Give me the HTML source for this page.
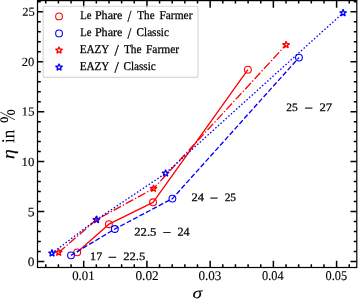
<!DOCTYPE html><html><head><meta charset="utf-8"><style>html,body{margin:0;padding:0;background:#fff;overflow:hidden;}svg{display:block;will-change:transform;}text{font-family:"Liberation Serif",serif;stroke:#000;stroke-width:0.25px;}</style></head><body>
<svg width="358" height="299" viewBox="0 0 358 299">
<rect x="0" y="0" width="358" height="299" fill="#fff"/>
<path d="M45.77,267.5v-3.3M45.77,0.6v3.0M58.41,267.5v-3.3M58.41,0.6v3.0M71.06,267.5v-3.3M71.06,0.6v3.0M83.70,267.5v-6.8M83.70,0.6v7.1M96.34,267.5v-3.3M96.34,0.6v3.0M108.99,267.5v-3.3M108.99,0.6v3.0M121.63,267.5v-3.3M121.63,0.6v3.0M134.28,267.5v-3.3M134.28,0.6v3.0M146.93,267.5v-6.8M146.93,0.6v7.1M159.57,267.5v-3.3M159.57,0.6v3.0M172.22,267.5v-3.3M172.22,0.6v3.0M184.86,267.5v-3.3M184.86,0.6v3.0M197.50,267.5v-3.3M197.50,0.6v3.0M210.15,267.5v-6.8M210.15,0.6v7.1M222.79,267.5v-3.3M222.79,0.6v3.0M235.44,267.5v-3.3M235.44,0.6v3.0M248.09,267.5v-3.3M248.09,0.6v3.0M260.73,267.5v-3.3M260.73,0.6v3.0M273.38,267.5v-6.8M273.38,0.6v7.1M286.02,267.5v-3.3M286.02,0.6v3.0M298.67,267.5v-3.3M298.67,0.6v3.0M311.31,267.5v-3.3M311.31,0.6v3.0M323.96,267.5v-3.3M323.96,0.6v3.0M336.60,267.5v-6.8M336.60,0.6v7.1M349.25,267.5v-3.3M349.25,0.6v3.0M37.5,261.50h6.8M356.8,261.50h-6.3M37.5,251.51h3.3M356.8,251.51h-3.0M37.5,241.52h3.3M356.8,241.52h-3.0M37.5,231.53h3.3M356.8,231.53h-3.0M37.5,221.54h3.3M356.8,221.54h-3.0M37.5,211.55h6.8M356.8,211.55h-6.3M37.5,201.56h3.3M356.8,201.56h-3.0M37.5,191.57h3.3M356.8,191.57h-3.0M37.5,181.58h3.3M356.8,181.58h-3.0M37.5,171.59h3.3M356.8,171.59h-3.0M37.5,161.60h6.8M356.8,161.60h-6.3M37.5,151.61h3.3M356.8,151.61h-3.0M37.5,141.62h3.3M356.8,141.62h-3.0M37.5,131.63h3.3M356.8,131.63h-3.0M37.5,121.64h3.3M356.8,121.64h-3.0M37.5,111.65h6.8M356.8,111.65h-6.3M37.5,101.66h3.3M356.8,101.66h-3.0M37.5,91.67h3.3M356.8,91.67h-3.0M37.5,81.68h3.3M356.8,81.68h-3.0M37.5,71.69h3.3M356.8,71.69h-3.0M37.5,61.70h6.8M356.8,61.70h-6.3M37.5,51.71h3.3M356.8,51.71h-3.0M37.5,41.72h3.3M356.8,41.72h-3.0M37.5,31.73h3.3M356.8,31.73h-3.0M37.5,21.74h3.3M356.8,21.74h-3.0M37.5,11.75h6.8M356.8,11.75h-6.3M37.5,1.76h3.3M356.8,1.76h-3.0" stroke="#000" stroke-width="1.5" fill="none"/>
<circle cx="77.20" cy="252.35" r="3.4" fill="none" stroke="#ff0000" stroke-width="1.1"/>
<circle cx="108.90" cy="224.20" r="3.4" fill="none" stroke="#ff0000" stroke-width="1.1"/>
<circle cx="153.05" cy="202.30" r="3.4" fill="none" stroke="#ff0000" stroke-width="1.1"/>
<circle cx="247.90" cy="69.65" r="3.4" fill="none" stroke="#ff0000" stroke-width="1.1"/>
<circle cx="71.00" cy="255.35" r="3.4" fill="none" stroke="#0000ff" stroke-width="1.1"/>
<circle cx="114.85" cy="229.00" r="3.4" fill="none" stroke="#0000ff" stroke-width="1.1"/>
<circle cx="172.40" cy="198.60" r="3.4" fill="none" stroke="#0000ff" stroke-width="1.1"/>
<circle cx="298.95" cy="57.60" r="3.4" fill="none" stroke="#0000ff" stroke-width="1.1"/>
<polygon points="58.70,248.70 59.53,251.26 62.22,251.26 60.04,252.84 60.87,255.39 58.70,253.81 56.53,255.39 57.36,252.84 55.18,251.26 57.87,251.26" fill="none" stroke="#ff0000" stroke-width="1.25" stroke-linejoin="bevel"/>
<polygon points="96.50,216.00 97.33,218.56 100.02,218.56 97.84,220.14 98.67,222.69 96.50,221.11 94.33,222.69 95.16,220.14 92.98,218.56 95.67,218.56" fill="none" stroke="#ff0000" stroke-width="1.25" stroke-linejoin="bevel"/>
<polygon points="153.50,184.90 154.33,187.46 157.02,187.46 154.84,189.04 155.67,191.59 153.50,190.01 151.33,191.59 152.16,189.04 149.98,187.46 152.67,187.46" fill="none" stroke="#ff0000" stroke-width="1.25" stroke-linejoin="bevel"/>
<polygon points="286.10,41.10 286.93,43.66 289.62,43.66 287.44,45.24 288.27,47.79 286.10,46.21 283.93,47.79 284.76,45.24 282.58,43.66 285.27,43.66" fill="none" stroke="#ff0000" stroke-width="1.25" stroke-linejoin="bevel"/>
<polygon points="52.00,249.50 52.83,252.06 55.52,252.06 53.34,253.64 54.17,256.19 52.00,254.61 49.83,256.19 50.66,253.64 48.48,252.06 51.17,252.06" fill="none" stroke="#0000ff" stroke-width="1.25" stroke-linejoin="bevel"/>
<polygon points="96.50,216.00 97.33,218.56 100.02,218.56 97.84,220.14 98.67,222.69 96.50,221.11 94.33,222.69 95.16,220.14 92.98,218.56 95.67,218.56" fill="none" stroke="#0000ff" stroke-width="1.25" stroke-linejoin="bevel"/>
<polygon points="165.60,169.60 166.43,172.16 169.12,172.16 166.94,173.74 167.77,176.29 165.60,174.71 163.43,176.29 164.26,173.74 162.08,172.16 164.77,172.16" fill="none" stroke="#0000ff" stroke-width="1.25" stroke-linejoin="bevel"/>
<polygon points="343.10,9.20 343.93,11.76 346.62,11.76 344.44,13.34 345.27,15.89 343.10,14.31 340.93,15.89 341.76,13.34 339.58,11.76 342.27,11.76" fill="none" stroke="#0000ff" stroke-width="1.25" stroke-linejoin="bevel"/>
<polyline points="77.20,252.35 108.90,224.20 153.05,202.30 247.90,69.65" fill="none" stroke="#ff0000" stroke-width="1.33" stroke-linejoin="round"/>
<polyline points="71.00,255.35 114.85,229.00 172.40,198.60 298.95,57.60" fill="none" stroke="#0000ff" stroke-width="1.33" stroke-dasharray="5.051,2.184" stroke-dashoffset="0.50" stroke-linejoin="round"/>
<polyline points="58.70,252.40 96.50,219.70 153.50,188.60 286.10,44.80" fill="none" stroke="#ff0000" stroke-width="1.33" stroke-dasharray="8.390,2.098,1.311,2.098" stroke-linejoin="round"/>
<polyline points="52.00,253.20 96.50,219.70 165.60,173.30 343.10,12.90" fill="none" stroke="#0000ff" stroke-width="1.33" stroke-dasharray="1.5,2.0" stroke-dashoffset="0.50" stroke-linejoin="round"/>
<rect x="37.5" y="0.6" width="319.3" height="266.9" fill="none" stroke="#000" stroke-width="1.2"/>
<rect x="43.2" y="6.3" width="154.8" height="71.1" rx="2" ry="2" fill="#fff" fill-opacity="0.8" stroke="#cccccc" stroke-opacity="0.8" stroke-width="1.1"/>
<circle cx="59.05" cy="16.40" r="3.4" fill="none" stroke="#ff0000" stroke-width="1.1"/>
<circle cx="59.05" cy="33.40" r="3.4" fill="none" stroke="#0000ff" stroke-width="1.1"/>
<polygon points="59.05,46.60 59.88,49.16 62.57,49.16 60.39,50.74 61.22,53.29 59.05,51.71 56.88,53.29 57.71,50.74 55.53,49.16 58.22,49.16" fill="none" stroke="#ff0000" stroke-width="1.25" stroke-linejoin="bevel"/>
<polygon points="59.05,63.60 59.88,66.16 62.57,66.16 60.39,67.74 61.22,70.29 59.05,68.71 56.88,70.29 57.71,67.74 55.53,66.16 58.22,66.16" fill="none" stroke="#0000ff" stroke-width="1.25" stroke-linejoin="bevel"/>
<text transform="translate(80.191,18.950) rotate(0.05) scale(0.8878,1)" font-size="12.000">Le</text>
<text transform="translate(94.877,18.950) rotate(0.05) scale(1.0101,1)" font-size="12.000">Phare</text>
<text transform="translate(127.514,21.494) rotate(0.05) scale(0.8657,1)" font-size="15.963">/</text>
<text transform="translate(137.308,18.950) rotate(0.05) scale(0.9306,1)" font-size="12.000">The</text>
<text transform="translate(159.402,18.950) rotate(0.05) scale(0.9556,1)" font-size="12.000">Farmer</text>
<text transform="translate(80.191,36.050) rotate(0.05) scale(0.8878,1)" font-size="12.000">Le</text>
<text transform="translate(94.877,36.050) rotate(0.05) scale(1.0101,1)" font-size="12.000">Phare</text>
<text transform="translate(127.614,38.392) rotate(0.05) scale(0.8840,1)" font-size="15.568">/</text>
<text transform="translate(136.577,36.050) rotate(0.05) scale(0.9330,1)" font-size="12.000">Classic</text>
<text transform="translate(79.695,52.950) rotate(0.05) scale(0.9296,1)" font-size="12.000">EAZY</text>
<text transform="translate(114.475,55.511) rotate(0.05) scale(0.9825,1)" font-size="15.780">/</text>
<text transform="translate(123.913,52.950) rotate(0.05) scale(0.9478,1)" font-size="12.000">The</text>
<text transform="translate(145.889,52.950) rotate(0.05) scale(0.9585,1)" font-size="12.000">Farmer</text>
<text transform="translate(79.695,69.950) rotate(0.05) scale(0.9296,1)" font-size="12.000">EAZY</text>
<text transform="translate(114.475,72.511) rotate(0.05) scale(0.9825,1)" font-size="15.780">/</text>
<text transform="translate(123.482,69.950) rotate(0.05) scale(0.9336,1)" font-size="12.000">Classic</text>
<text transform="translate(27.865,266.085) rotate(0.05) scale(1.0608,1)" font-size="12.678" style="stroke-width:0.12px">0</text>
<text transform="translate(27.692,216.215) rotate(0.05) scale(1.0517,1)" font-size="13.012" style="stroke-width:0.12px">5</text>
<text transform="translate(21.491,165.924) rotate(0.05) scale(1.0385,1)" font-size="12.407" style="stroke-width:0.12px">10</text>
<text transform="translate(21.377,115.540) rotate(0.05) scale(1.0693,1)" font-size="12.312" style="stroke-width:0.12px">15</text>
<text transform="translate(21.821,65.892) rotate(0.05) scale(1.0019,1)" font-size="12.545" style="stroke-width:0.12px">20</text>
<text transform="translate(22.136,15.636) rotate(0.05) scale(1.0353,1)" font-size="12.105" style="stroke-width:0.12px">25</text>
<text transform="translate(72.221,279.966) rotate(0.05) scale(0.9632,1)" font-size="13.255" style="stroke-width:0.12px">0.01</text>
<text transform="translate(135.458,279.979) rotate(0.05) scale(0.9896,1)" font-size="13.414" style="stroke-width:0.12px">0.02</text>
<text transform="translate(198.440,279.914) rotate(0.05) scale(0.9851,1)" font-size="13.325" style="stroke-width:0.12px">0.03</text>
<text transform="translate(262.123,279.988) rotate(0.05) scale(0.9188,1)" font-size="13.410" style="stroke-width:0.12px">0.04</text>
<text transform="translate(325.559,279.965) rotate(0.05) scale(0.9191,1)" font-size="13.387" style="stroke-width:0.12px">0.05</text>
<text transform="translate(286.157,110.995) rotate(0.05) scale(1.0107,1)" font-size="11.376">25</text>
<text transform="translate(304.594,112.564) rotate(0.05) scale(1.1170,1)" font-size="13.400">−</text>
<text transform="translate(319.376,111.062) rotate(0.05) scale(1.1114,1)" font-size="11.457">27</text>
<text transform="translate(191.576,201.083) rotate(0.05) scale(1.0937,1)" font-size="11.496">24</text>
<text transform="translate(209.806,202.564) rotate(0.05) scale(1.1238,1)" font-size="13.400">−</text>
<text transform="translate(224.629,201.019) rotate(0.05) scale(1.0073,1)" font-size="11.392">25</text>
<text transform="translate(134.283,235.620) rotate(0.05) scale(1.0938,1)" font-size="11.602">22.5</text>
<text transform="translate(162.679,237.027) rotate(0.05) scale(1.1091,1)" font-size="13.400">−</text>
<text transform="translate(177.420,235.780) rotate(0.05) scale(1.0080,1)" font-size="12.133">24</text>
<text transform="translate(90.086,260.005) rotate(0.05) scale(1.0557,1)" font-size="11.464">17</text>
<text transform="translate(108.107,261.635) rotate(0.05) scale(1.1683,1)" font-size="13.400">−</text>
<text transform="translate(123.182,259.911) rotate(0.05) scale(1.1319,1)" font-size="11.191">22.5</text>
<text transform="translate(192.419,298.094) rotate(0.05) scale(1.2487,1)" font-size="15.598" font-style="italic" style="stroke-width:0.1px">σ</text>
<text transform="translate(14.348,159.127) rotate(-89.95) scale(1.1451,1)" font-size="17.832" font-style="italic" style="stroke-width:0.05px">η</text>
<text transform="translate(14.296,143.090) rotate(-89.95) scale(0.9363,1)" font-size="18.223" style="stroke-width:0.05px">in</text>
<text transform="translate(14.805,123.051) rotate(-89.95) scale(0.7697,1)" font-size="21.737" style="stroke-width:0.0px">%</text>
</svg></body></html>
